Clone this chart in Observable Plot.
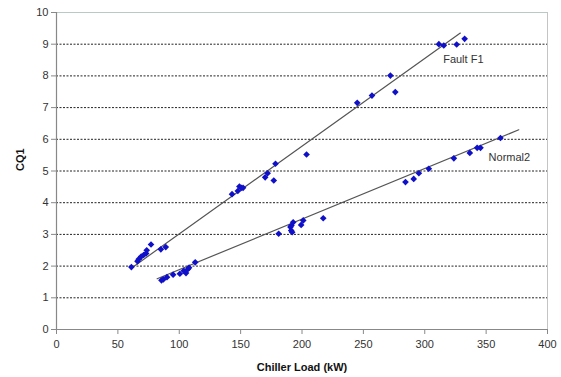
<!DOCTYPE html>
<html>
<head>
<meta charset="utf-8">
<script src="https://cdn.jsdelivr.net/npm/d3@7"></script>
<script src="https://cdn.jsdelivr.net/npm/@observablehq/plot@0.6"></script>
<style>
  html, body { margin: 0; padding: 0; background: #fff; }
  #chart { width: 561px; height: 377px; }
</style>
</head>
<body>
<div id="chart"></div>
<script>
// Fault F1 observations (Chiller Load kW, CQ1)
const faultX = [61, 66, 67, 69, 71, 73, 73.5, 77, 85, 89, 143, 147.7, 149, 150.5, 152, 170, 172, 177, 178.4, 203.7, 245, 257, 272, 276, 311.5, 315.5, 326, 332.5];
const faultY = [1.97, 2.15, 2.22, 2.3, 2.35, 2.4, 2.5, 2.68, 2.53, 2.6, 4.27, 4.37, 4.51, 4.47, 4.47, 4.8, 4.93, 4.7, 5.23, 5.52, 7.15, 7.38, 8.01, 7.49, 9.0, 8.96, 8.99, 9.17];
// Normal2 observations
const normalX = [85.5, 87, 90, 95, 100.5, 103.7, 105.5, 107, 108, 113, 181, 190.6, 191.2, 191.4, 192, 192.8, 199.3, 201, 217.3, 284.3, 291, 295.2, 303.3, 323.7, 336.7, 342.7, 345.4, 361.7];
const normalY = [1.55, 1.58, 1.65, 1.73, 1.76, 1.85, 1.78, 1.9, 1.95, 2.12, 3.02, 3.23, 3.12, 3.28, 3.07, 3.38, 3.3, 3.44, 3.51, 4.65, 4.75, 4.93, 5.07, 5.4, 5.57, 5.73, 5.73, 6.04];
// Trend line endpoints
const faultLineX = [61.5, 329];
const faultLineY = [1.95, 9.35];
const normalLineX = [82, 376.6];
const normalLineY = [1.6, 6.3];
// Series labels
const labelNames = ["Fault F1", "Normal2"];
const labelX = [315, 352];
const labelY = [8.52, 5.43];
// Ticks
const xTicks = [0, 50, 100, 150, 200, 250, 300, 350, 400];
const yTicks = [0, 1, 2, 3, 4, 5, 6, 7, 8, 9, 10];
const gridY = [1, 2, 3, 4, 5, 6, 7, 8, 9];

const faultPts = faultX.map((x, i) => ({x, y: faultY[i]}));
const normalPts = normalX.map((x, i) => ({x, y: normalY[i]}));
const fLine = faultLineX.map((x, i) => ({x, y: faultLineY[i]}));
const nLine = normalLineX.map((x, i) => ({x, y: normalLineY[i]}));
const labels = labelNames.map((t, i) => ({t, x: labelX[i], y: labelY[i]}));

const chart = Plot.plot({
  width: 561,
  height: 377,
  marginLeft: 56,
  marginRight: 14,
  marginTop: 12,
  marginBottom: 48,
  style: {fontFamily: "'Liberation Sans', Arial, sans-serif", fontSize: "11px", background: "#fff", overflow: "visible"},
  x: {domain: [0, 400]},
  y: {domain: [0, 10]},
  marks: [
    Plot.ruleY(gridY, {stroke: "#222", strokeWidth: 1, strokeDasharray: "2,1.5"}),
    Plot.ruleY([10], {stroke: "#b9c9c6", strokeWidth: 1}),
    Plot.ruleX([400], {stroke: "#c4c4c4", strokeWidth: 1}),
    Plot.ruleX([0], {stroke: "#888", strokeWidth: 1.2}),
    Plot.ruleY([0], {stroke: "#888", strokeWidth: 1.2}),
    Plot.axisX({ticks: xTicks, tickSize: 5, tickPadding: 6, label: null, stroke: "#888", color: "#333", fontSize: 11}),
    Plot.axisY({ticks: yTicks, tickSize: 5, tickPadding: 3, label: null, stroke: "#888", color: "#333", fontSize: 11}),
    Plot.line(fLine, {x: "x", y: "y", stroke: "#555", strokeWidth: 1.2}),
    Plot.line(nLine, {x: "x", y: "y", stroke: "#555", strokeWidth: 1.2}),
    Plot.dot(faultPts, {x: "x", y: "y", symbol: "diamond2", r: 3, fill: "#1010c8", stroke: "none"}),
    Plot.dot(normalPts, {x: "x", y: "y", symbol: "diamond2", r: 3, fill: "#1010c8", stroke: "none"}),
    Plot.text(labels, {x: "x", y: "y", text: "t", textAnchor: "start", fill: "#333", fontSize: 11}),
    Plot.text(["Chiller Load (kW)"], {frameAnchor: "bottom", dy: 41, fontWeight: "bold", fill: "#111", fontSize: 11}),
    Plot.text(["CQ1"], {frameAnchor: "left", dx: -36, rotate: -90, fontWeight: "bold", fill: "#111", fontSize: 11})
  ]
});
document.getElementById("chart").appendChild(chart);
</script>
</body>
</html>
